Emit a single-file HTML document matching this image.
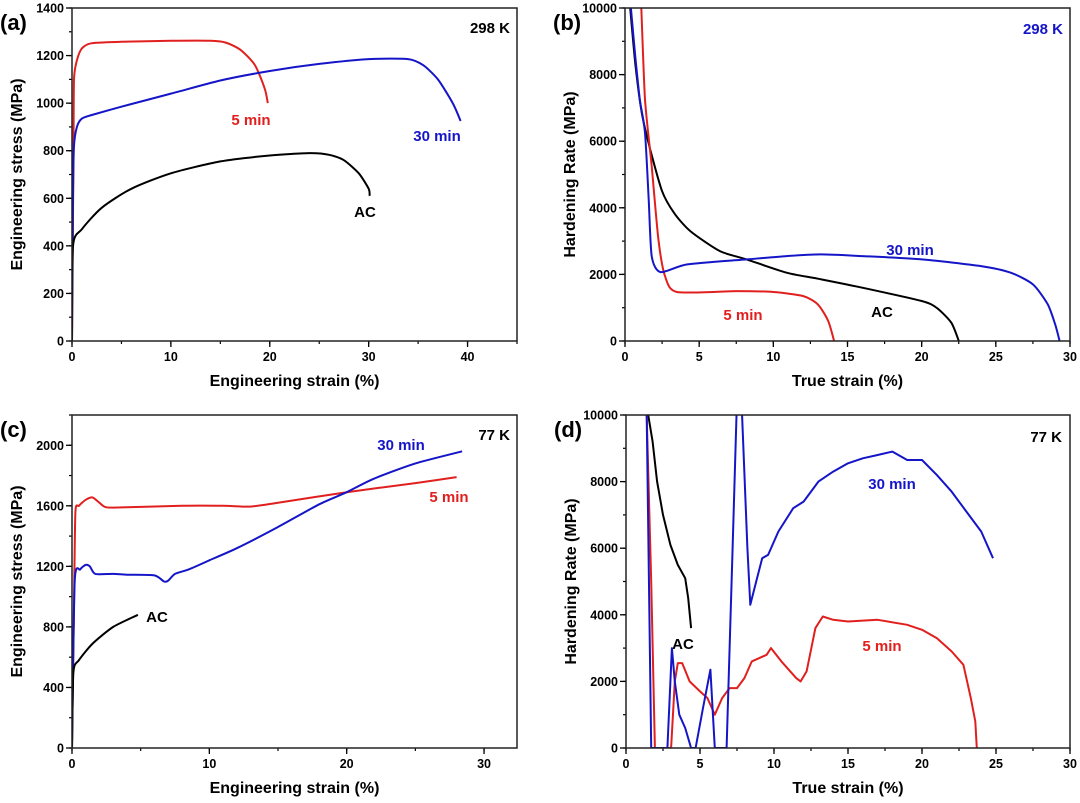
<!DOCTYPE html>
<html><head><meta charset="utf-8"><style>
body{margin:0;background:#fff;}
svg{display:block;font-family:"Liberation Sans",Arial,sans-serif;font-weight:bold;}
</style></head><body>
<svg id="fig" width="1080" height="803" viewBox="0 0 1080 803"></svg>
<script>
// ---------- data ----------
const aRedX=[0,0.15,0.2,0.5,1,2,5,10,14,15.5,17,18.5,19.5,19.8];
const aRedY=[0,800,1100,1180,1230,1252,1258,1262,1262,1255,1225,1160,1060,1000];
const aBlueX=[0,0.1,0.2,0.5,1,2,5,10,15,20,25,30,34,35.5,37,38.5,39.3];
const aBlueY=[0,600,820,900,935,950,985,1040,1095,1135,1165,1185,1185,1160,1100,1000,925];
const aBlackX=[0,0.1,1,3,6,10,15,20,24,26,27.5,29,30,30.1];
const aBlackY=[0,400,470,560,640,705,755,780,790,783,760,705,640,610];

const bBlackX=[0.35,0.7,1.13,1.7,2.5,3.3,4.4,6.4,8.2,10.9,13,16,20,21,22,22.5];
const bBlackY=[10000,8300,6850,5750,4500,3850,3300,2700,2450,2050,1870,1600,1200,1000,550,0];
const bRedX=[1.1,1.35,1.8,2.25,2.7,3.5,7.5,10,12,13,13.7,14.1];
const bRedY=[10000,7250,5250,3050,1950,1470,1500,1470,1350,1100,600,0];
const bBlueX=[0.4,0.7,1.0,1.35,1.6,1.8,2.4,4.2,8.2,10.9,13.2,16,20,24,26,27.5,28.5,29,29.3];
const bBlueY=[10000,8500,7250,6250,4250,2550,2070,2300,2450,2550,2600,2550,2450,2250,2050,1700,1100,500,0];

const cRedX=[0,0.15,0.25,0.5,1,1.5,2,2.5,4,8,11,13,15,20,25,28];
const cRedY=[0,1000,1560,1600,1640,1655,1620,1590,1590,1600,1600,1595,1620,1690,1750,1790];
const cBlueX=[0,0.2,0.6,1,1.3,1.7,3,4,6,6.7,7,7.5,8.5,10,12,15,18,20,22,25,28.4];
const cBlueY=[0,1100,1180,1210,1200,1150,1150,1145,1140,1100,1105,1150,1180,1240,1320,1460,1610,1690,1780,1880,1960];
const cBlackX=[0,0.1,0.5,1.5,3,4.8];
const cBlackY=[0,500,580,690,800,880];

const dBlackX=[1.5,1.8,2.1,2.5,3,3.5,4,4.2,4.4];
const dBlackY=[10000,9200,8000,7000,6100,5500,5100,4500,3600];
const dRedX=[1.4,1.7,1.95,3.05,3.3,3.5,3.8,4.3,5,5.5,6,6.5,7,7.5,8,8.5,9.5,9.8,10.5,11.5,11.8,12.2,12.8,13.3,14,15,17,19,20,21,22,22.8,23.3,23.6,23.7];
const dRedY=[10000,5000,0,0,2000,2550,2550,2000,1700,1500,1000,1500,1800,1800,2100,2600,2800,3000,2600,2100,2000,2300,3600,3950,3850,3800,3850,3700,3550,3300,2900,2500,1500,800,0];
const dBlueX=[1.4,1.7,2.8,3.1,3.3,3.6,4.0,4.4,4.7,5.2,5.7,6,6.8,7.2,7.5,7.8,8.2,8.4,8.8,9.2,9.6,10.3,11.3,12,13,14,15,16,17,18,19,20,21,22,23,24,24.8];
const dBlueY=[10000,0,0,3000,2000,1000,600,0,0,1200,2350,0,0,6000,10500,10500,6000,4300,5000,5700,5800,6500,7200,7400,8000,8300,8550,8700,8800,8900,8650,8650,8200,7700,7100,6500,5700];

const xTicksA=[0,10,20,30,40], yTicksA=[0,200,400,600,800,1000,1200,1400];
const xTicksB=[0,5,10,15,20,25,30], yTicksB=[0,2000,4000,6000,8000,10000];
const xTicksC=[0,10,20,30], yTicksC=[0,400,800,1200,1600,2000];
const xTicksD=[0,5,10,15,20,25,30], yTicksD=[0,2000,4000,6000,8000,10000];

const NS="http://www.w3.org/2000/svg";
const svg=document.getElementById('fig');
function mk(tag,attrs,parent){const e=document.createElementNS(NS,tag);for(const k in attrs)e.setAttribute(k,attrs[k]);(parent||svg).appendChild(e);return e;}
function txt(s,x,y,size,anchor,color,parent){const t=mk('text',{x:x,y:y,'font-size':size,'text-anchor':anchor||'middle',fill:color||'#000'},parent);t.textContent=s;return t;}

function panel(id,P,xt,yt,xMinor,yMinor,xTitle,yTitle,letter){
  const g=mk('g',{});
  
  
  const sx=v=>P.l+(v-P.x0)/(P.x1-P.x0)*(P.r-P.l);
  const sy=v=>P.b-(v-P.y0)/(P.y1-P.y0)*(P.b-P.t);
  const clip=mk('clipPath',{id:'clip'+id},g);
  mk('rect',{x:P.l,y:P.t,width:P.r-P.l,height:P.b-P.t},clip);
  for(let v=P.x0;v<=P.x1+1e-9;v+=xMinor){mk('line',{x1:sx(v),x2:sx(v),y1:P.b,y2:P.b+3,stroke:'#000','stroke-width':1.2},g);}
  for(let v=P.y0;v<=P.y1+1e-9;v+=yMinor){mk('line',{x1:P.l,x2:P.l-3,y1:sy(v),y2:sy(v),stroke:'#000','stroke-width':1.2},g);}
  xt.forEach(v=>{mk('line',{x1:sx(v),x2:sx(v),y1:P.b,y2:P.b+6,stroke:'#000','stroke-width':1.3},g);
    const t=txt(String(v),sx(v),P.b+20,12.5,'middle','#000',g);
    
    });
  yt.forEach(v=>{mk('line',{x1:P.l,x2:P.l-6,y1:sy(v),y2:sy(v),stroke:'#000','stroke-width':1.3},g);
    const t=txt(String(v),P.l-8,sy(v)+4.5,12.5,'end','#000',g);
    
    });
  const xtT=txt(xTitle,(P.l+P.r)/2,P.b+45,16,'middle','#000',g);
  
  
  const ytT=txt(yTitle,0,0,16,'middle','#000',g);
  ytT.setAttribute('transform','translate('+(P.l-50)+','+((P.t+P.b)/2)+') rotate(-90)');
  
  
  const lt=txt(letter,P.l-72,P.t+22,22,'start','#000',g);
  
  
  return {g,sx,sy,id};
}
function series(p,xs,ys,color,name,smooth){
  const pts=xs.map((x,i)=>[p.sx(x),p.sy(ys[i])]);
  let d='M'+pts[0][0].toFixed(1)+','+pts[0][1].toFixed(1);
  for(let i=1;i<pts.length;i++){
    if(smooth){
      const p0=pts[Math.max(0,i-2)],p1=pts[i-1],p2=pts[i],p3=pts[Math.min(pts.length-1,i+1)];
      const k=0.12;
      const c1=[p1[0]+(p2[0]-p0[0])*k,p1[1]+(p2[1]-p0[1])*k];
      const c2=[p2[0]-(p3[0]-p1[0])*k,p2[1]-(p3[1]-p1[1])*k];
      d+='C'+c1[0].toFixed(1)+','+c1[1].toFixed(1)+' '+c2[0].toFixed(1)+','+c2[1].toFixed(1)+' '+p2[0].toFixed(1)+','+p2[1].toFixed(1);
    } else d+='L'+pts[i][0].toFixed(1)+','+pts[i][1].toFixed(1);
  }
  const path=mk('path',{d:d,fill:'none',stroke:color,'stroke-width':2,'stroke-linejoin':'round','clip-path':'url(#clip'+p.id+')'},p.g);
  
  
}
function frame(p,P){const r=mk('rect',{x:P.l,y:P.t,width:P.r-P.l,height:P.b-P.t,fill:'none',stroke:'#222','stroke-width':1.5},p.g);
  
  }
function label(p,s,x,y,color,name,anchor){const t=txt(s,x,y,15,anchor||'middle',color,p.g);
  
  }

const RED='#e0201e',BLUE='#1515c8',BLK='#000';

const PA={l:72,r:517,t:8,b:341,x0:0,x1:45,y0:0,y1:1400};
const pa=panel('a',PA,xTicksA,yTicksA,5,100,'Engineering strain (%)','Engineering stress (MPa)','(a)');
series(pa,aRedX,aRedY,RED,'series-5min',true);
series(pa,aBlueX,aBlueY,BLUE,'series-30min',true);
series(pa,aBlackX,aBlackY,BLK,'series-ac',true);
frame(pa,PA);
label(pa,'298 K',510,33,'#000','temperature-label','end');
label(pa,'5 min',251,125,RED,'label-5min');
label(pa,'30 min',437,141,BLUE,'label-30min');
label(pa,'AC',365,217,BLK,'label-ac');

const PB={l:625,r:1070,t:8,b:341,x0:0,x1:30,y0:0,y1:10000};
const pb=panel('b',PB,xTicksB,yTicksB,2.5,1000,'True strain (%)','Hardening Rate (MPa)','(b)');
series(pb,bBlackX,bBlackY,BLK,'series-ac',true);
series(pb,bRedX,bRedY,RED,'series-5min',true);
series(pb,bBlueX,bBlueY,BLUE,'series-30min',true);
frame(pb,PB);
label(pb,'298 K',1063,34,BLUE,'temperature-label','end');
label(pb,'30 min',910,255,BLUE,'label-30min');
label(pb,'5 min',743,320,RED,'label-5min');
label(pb,'AC',882,317,BLK,'label-ac');

const PC={l:72,r:517,t:415,b:748,x0:0,x1:32.4,y0:0,y1:2200};
const pc=panel('c',PC,xTicksC,yTicksC,5,200,'Engineering strain (%)','Engineering stress (MPa)','(c)');
series(pc,cRedX,cRedY,RED,'series-5min',true);
series(pc,cBlueX,cBlueY,BLUE,'series-30min',true);
series(pc,cBlackX,cBlackY,BLK,'series-ac',true);
frame(pc,PC);
label(pc,'77 K',510,440,'#000','temperature-label','end');
label(pc,'30 min',401,450,BLUE,'label-30min');
label(pc,'5 min',449,502,RED,'label-5min');
label(pc,'AC',157,622,BLK,'label-ac');

const PD={l:626,r:1070,t:415,b:748,x0:0,x1:30,y0:0,y1:10000};
const pd=panel('d',PD,xTicksD,yTicksD,2.5,1000,'True strain (%)','Hardening Rate (MPa)','(d)');
series(pd,dBlackX,dBlackY,BLK,'series-ac',false);
series(pd,dRedX,dRedY,RED,'series-5min',false);
series(pd,dBlueX,dBlueY,BLUE,'series-30min',false);
frame(pd,PD);
label(pd,'77 K',1062,442,'#000','temperature-label','end');
label(pd,'30 min',892,489,BLUE,'label-30min');
label(pd,'5 min',882,651,RED,'label-5min');
label(pd,'AC',683,649,BLK,'label-ac');
</script>
</body></html>
